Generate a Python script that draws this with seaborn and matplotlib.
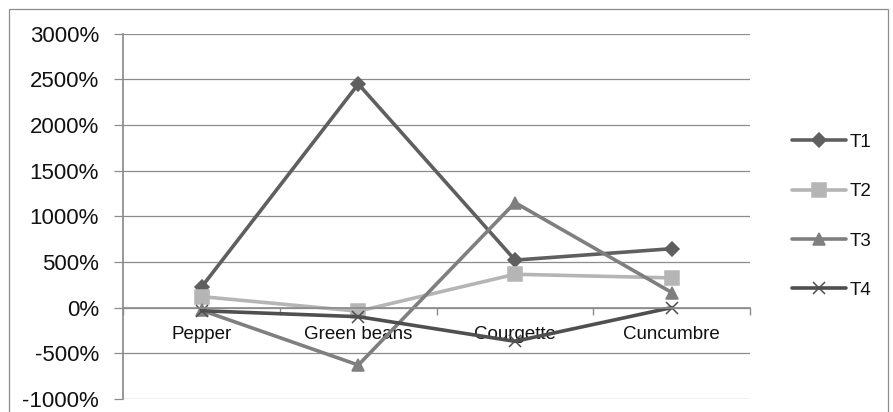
import matplotlib
matplotlib.use("Agg")
import matplotlib.pyplot as plt
import seaborn as sns
import pandas as pd
from matplotlib.ticker import FuncFormatter, FixedLocator

categories = ["Pepper", "Green beans", "Courgette", "Cuncumbre"]
series_names = ["T1", "T2", "T3", "T4"]
t1 = [225, 2450, 520, 645]
t2 = [120, -40, 365, 325]
t3 = [-30, -630, 1150, 165]
t4 = [-35, -100, -370, 0]

sns.set_theme(style="white")
plt.rcParams['font.family'] = ['Liberation Sans', 'DejaVu Sans']

colors = {"T1": "#5f5f5f", "T2": "#b5b5b5", "T3": "#7f7f7f", "T4": "#4f4f4f"}
markers = {"T1": "D", "T2": "s", "T3": "^", "T4": "x"}
msizes = {"T1": 7.5, "T2": 9.5, "T3": 9, "T4": 9}

fig = plt.figure(figsize=(8.93, 4.12), dpi=100)
ax = fig.add_axes([0.138, 0.032, 0.702, 0.886])

for name, vals in zip(series_names, [t1, t2, t3, t4]):
    df = pd.DataFrame({"Crop": categories, "Value": vals})
    sns.lineplot(data=df, x="Crop", y="Value", color=colors[name], marker=markers[name],
                 markersize=msizes[name], markeredgecolor=colors[name],
                 markeredgewidth=1.1, linewidth=2.6, sort=False, label=name, ax=ax)

ax.set_ylim(-1000, 3000)
ax.set_xlim(-0.5, 3.5)
ax.set_yticks(range(-1000, 3001, 500))
ax.yaxis.set_major_formatter(FuncFormatter(lambda v, p: f"{int(v)}%"))
ax.yaxis.grid(True, color="#8c8c8c", linewidth=0.9)
ax.set_axisbelow(True)
ax.set_xlabel("")
ax.set_ylabel("")

for s in ["top", "right"]:
    ax.spines[s].set_visible(False)
ax.spines["left"].set_color("#8c8c8c")
ax.spines["bottom"].set_position(("data", 0))
ax.spines["bottom"].set_color("#8c8c8c")

ax.tick_params(axis="y", length=6.5, width=0.9, color="#8c8c8c", labelsize=16,
               pad=11, left=True, labelcolor="#111111")
ax.tick_params(axis="x", which="major", length=0, labelsize=13.5, pad=13,
               labelcolor="#111111")
ax.xaxis.set_minor_locator(FixedLocator([-0.5, 0.5, 1.5, 2.5, 3.5]))
ax.tick_params(axis="x", which="minor", length=5, color="#8c8c8c", direction="out", bottom=True)

handles, labels = ax.get_legend_handles_labels()
leg = ax.legend(handles, labels, loc="center left", bbox_to_anchor=(1.04, 0.50),
                frameon=False, fontsize=13.5, labelspacing=1.72, handlelength=2.9,
                handletextpad=0.15)
for t in leg.get_texts():
    t.set_color("#111111")

border = plt.Rectangle((0.010, -0.01), 0.984, 0.988, transform=fig.transFigure,
                       fill=False, edgecolor="#8c8c8c", linewidth=0.9)
fig.patches.append(border)

fig.savefig("out.png", dpi=100)
